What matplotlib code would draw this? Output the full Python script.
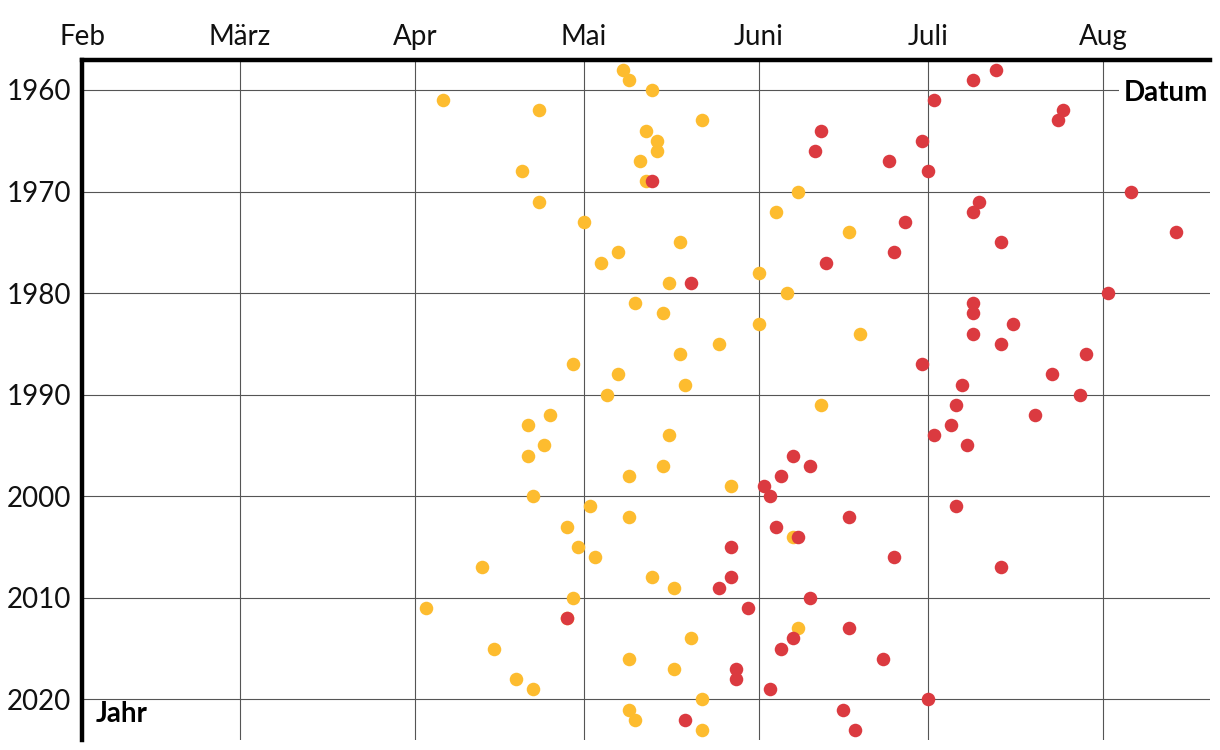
import numpy as np
import matplotlib
matplotlib.use("Agg")
import matplotlib.pyplot as plt

plt.rcParams['font.family'] = ['Lato', 'DejaVu Sans']

years = list(range(1958, 2024))

# day of year of first day (yellow series)
yellow_doy = [128, 129, 133, 96, 113, 142, 132, 134, 134, 131,
              110, 132, 159, 113, 155, 121, 168, 138, 127, 124,
              152, 136, 157, 130, 135, 152, 170, 145, 138, 119,
              127, 139, 125, 163, 115, 111, 136, 114, 111, 135,
              129, 147, 112, 122, 129, 118, 158, 120, 123, 103,
              133, 137, 119, 93, 118, 159, 140, 105, 129, 137,
              109, 112, 142, 129, 130, 142]

# day of year of first day (red series); nan = no point
red_doy = [194, 190, np.nan, 183, 206, 205, 163, 181, 162, 175,
           182, 133, 218, 191, 190, 178, 226, 195, 176, 164,
           np.nan, 140, 214, 190, 190, 197, 190, 195, 210, 181,
           204, 188, 209, 187, 201, 186, 183, 189, 158, 161,
           156, 153, 154, 187, 168, 155, 159, 147, 176, 195,
           147, 145, 161, 150, 118, 168, 158, 156, 174, 148,
           148, 154, 182, 167, 139, 169]

month_doy = [32, 60, 91, 121, 152, 182, 213]
month_labels = ["Feb", "März", "Apr", "Mai", "Juni", "Juli", "Aug"]
year_ticks = [1960, 1970, 1980, 1990, 2000, 2010, 2020]

fig = plt.figure(figsize=(12.2, 7.5), dpi=100)
ax = fig.add_axes([82/1220, 10/750, 1128/1220, 680/750])

ax.scatter(yellow_doy, years, s=95, color="#FDBC2F", zorder=3, linewidths=0)
ax.scatter(red_doy, years, s=95, color="#DB3A40", zorder=4, linewidths=0)

ax.set_xlim(32, 232)
ax.set_ylim(2024.0, 1957.05)

ax.xaxis.tick_top()
ax.set_xticks(month_doy)
ax.set_xticklabels(month_labels)
ax.set_yticks(year_ticks)
ax.set_yticklabels([str(y) for y in year_ticks])
ax.tick_params(axis='both', length=0, labelsize=20, colors="#111111")
ax.tick_params(axis='x', pad=7)
ax.tick_params(axis='y', pad=8)

ax.grid(True, color="#555555", linewidth=0.8, zorder=0)
ax.set_axisbelow(True)

for s in ['right', 'bottom']:
    ax.spines[s].set_visible(False)
for s in ['top', 'left']:
    ax.spines[s].set_linewidth(3.2)
    ax.spines[s].set_color('black')

ax.text(0.9985, 0.951, "Datum", transform=ax.transAxes, ha='right', va='center',
        fontsize=20, fontweight='bold', zorder=5,
        bbox=dict(facecolor='white', edgecolor='none', pad=3.5))
ax.text(0.012, 0.038, "Jahr", transform=ax.transAxes, ha='left', va='center',
        fontsize=20, fontweight='bold', zorder=5)

fig.savefig("out.png", dpi=100)
